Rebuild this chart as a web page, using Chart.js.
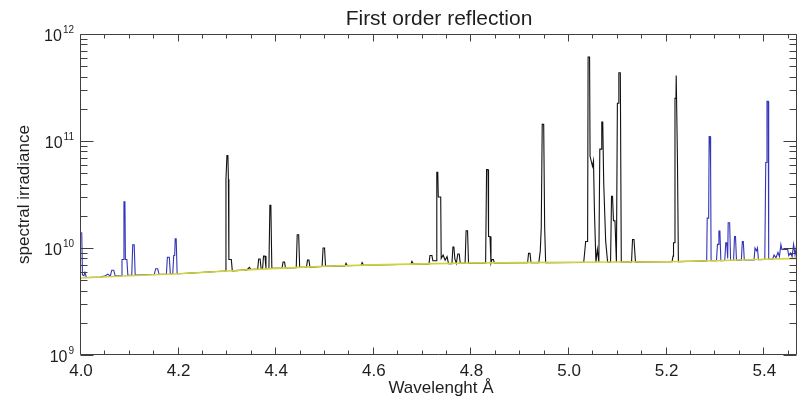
<!DOCTYPE html>
<html>
<head>
<meta charset="utf-8">
<script src="https://cdn.jsdelivr.net/npm/chart.js@4/dist/chart.umd.min.js"></script>
<style>
  html, body { margin: 0; padding: 0; background: #ffffff; }
  #wrap { width: 802px; height: 401px; }
</style>
</head>
<body>
<div id="wrap"><canvas id="c" width="802" height="401"></canvas></div>
<script>
// ---------------- data ----------------
const chartTitle = 'First order reflection';
const xAxisTitle = 'Wavelenght Å';
const yAxisTitle = 'spectral irradiance';

const xMajorTicks = [4.0, 4.2, 4.4, 4.6, 4.8, 5.0, 5.2, 5.4];
const xTickLabels = ['4.0', '4.2', '4.4', '4.6', '4.8', '5.0', '5.2', '5.4'];
const xMinorTicks = [4.05, 4.10, 4.15, 4.25, 4.30, 4.35, 4.45, 4.50, 4.55, 4.65, 4.70, 4.75,
                     4.85, 4.90, 4.95, 5.05, 5.10, 5.15, 5.25, 5.30, 5.35, 5.45];
const yMajorTicks = [1e9, 1e10, 1e11, 1e12];
const yTickExponents = ['9', '10', '11', '12'];
const yMinorTicks = [2e9, 3e9, 4e9, 5e9, 6e9, 7e9, 8e9, 9e9,
                     2e10, 3e10, 4e10, 5e10, 6e10, 7e10, 8e10, 9e10,
                     2e11, 3e11, 4e11, 5e11, 6e11, 7e11, 8e11, 9e11];

// continuum (yellow)
const contWl  = [4.00, 4.10, 4.20, 4.30, 4.40, 4.50, 4.60, 4.70, 4.80, 4.90, 5.00, 5.10, 5.20, 5.30, 5.40, 5.467];
const contVal = [5.25e9, 5.5e9, 5.75e9, 6.1e9, 6.45e9, 6.75e9, 6.95e9, 7.1e9, 7.25e9, 7.3e9, 7.35e9, 7.4e9, 7.45e9, 7.6e9, 7.85e9, 8.0e9];

// blue spectrum, short wavelength part
const blueWlA  = [4.0015, 4.003, 4.006, 4.008, 4.011, 4.040, 4.050, 4.055, 4.060, 4.063, 4.067, 4.070,
                  4.082, 4.084, 4.087, 4.088, 4.090, 4.091, 4.094, 4.096, 4.104, 4.106, 4.109, 4.111,
                  4.150, 4.153, 4.157, 4.160, 4.175, 4.177, 4.181, 4.183, 4.188, 4.190, 4.192, 4.193,
                  4.195, 4.197, 4.210];
const blueValA = [1.4e10, 5.6e9, 5.5e9, 5.9e9, 5.3e9, 5.36e9, 5.5e9, 5.7e9, 5.45e9, 6.2e9, 6.2e9, 5.5e9,
                  5.5e9, 7.8e9, 7.8e9, 2.7e10, 2.7e10, 7.8e9, 7.8e9, 5.55e9, 5.6e9, 1.07e10, 1.07e10, 5.6e9,
                  5.65e9, 6.4e9, 6.4e9, 5.68e9, 5.72e9, 8.2e9, 8.2e9, 5.74e9, 5.74e9, 8.5e9, 8.5e9, 1.22e10,
                  1.22e10, 5.75e9, 5.77e9];

// black spectrum
const blackWl  = [4.210, 4.296, 4.297, 4.299, 4.301, 4.302, 4.303, 4.308, 4.310, 4.340, 4.345, 4.348,
                  4.362, 4.364, 4.367, 4.369, 4.372, 4.374, 4.377, 4.379, 4.385, 4.387, 4.389, 4.391,
                  4.412, 4.414, 4.417, 4.419, 4.441, 4.443, 4.446, 4.448, 4.462, 4.464, 4.467, 4.469,
                  4.494, 4.496, 4.499, 4.501, 4.541, 4.543, 4.546, 4.574, 4.576, 4.579, 4.676, 4.678,
                  4.681, 4.713, 4.715, 4.719, 4.721, 4.728, 4.729, 4.731, 4.732, 4.737, 4.738, 4.742,
                  4.746, 4.750, 4.753, 4.760, 4.762, 4.764, 4.766, 4.769, 4.772, 4.775, 4.777, 4.787,
                  4.789, 4.792, 4.794, 4.829, 4.831, 4.834, 4.835, 4.838, 4.840, 4.842, 4.845, 4.847,
                  4.915, 4.917, 4.920, 4.922, 4.938, 4.941, 4.943, 4.945, 4.948, 4.950, 4.952,
                  5.030, 5.034, 5.038, 5.039, 5.042, 5.043, 5.048, 5.050, 5.052, 5.055, 5.058, 5.061,
                  5.063, 5.066, 5.067, 5.069, 5.071, 5.075, 5.079, 5.085, 5.087, 5.089, 5.091, 5.094,
                  5.097, 5.099, 5.101, 5.102, 5.105, 5.107, 5.128, 5.130, 5.133, 5.136,
                  5.205, 5.211, 5.213, 5.214, 5.216, 5.217, 5.219, 5.2195, 5.221, 5.222, 5.223, 5.224,
                  5.280];
const blackVal = [5.77e9, 6.1e9, 4.4e10, 7.3e10, 7.3e10, 4.4e10, 7.8e9, 7.8e9, 6.12e9, 6.25e9, 6.6e9, 6.3e9,
                  6.35e9, 7.9e9, 7.9e9, 6.4e9, 6.4e9, 8.4e9, 8.4e9, 6.42e9, 6.43e9, 2.5e10, 2.5e10, 6.45e9,
                  6.5e9, 7.4e9, 7.4e9, 6.5e9, 6.55e9, 1.33e10, 1.33e10, 6.6e9, 6.6e9, 7.7e9, 7.7e9, 6.62e9,
                  6.72e9, 1.0e10, 1.0e10, 6.75e9, 6.8e9, 7.2e9, 6.82e9, 6.9e9, 7.3e9, 6.9e9, 7.05e9, 7.5e9,
                  7.07e9, 7.1e9, 8.5e9, 8.5e9, 7.6e9, 7.6e9, 5.1e10, 5.1e10, 3.0e10, 3.0e10, 8.0e9, 8.6e9,
                  7.7e9, 8.3e9, 7.15e9, 7.15e9, 1.02e10, 1.02e10, 7.9e9, 7.17e9, 8.8e9, 8.8e9, 7.18e9, 7.2e9,
                  1.45e10, 1.45e10, 7.2e9, 7.23e9, 5.4e10, 5.4e10, 1.28e10, 1.28e10, 7.24e9, 7.8e9, 7.8e9, 7.25e9,
                  7.28e9, 8.9e9, 8.9e9, 7.28e9, 7.3e9, 9.4e9, 1.55e10, 1.43e11, 1.43e11, 1.55e10, 7.3e9,
                  7.33e9, 1.15e10, 1.15e10, 6.1e11, 6.1e11, 7.2e10, 5.8e10, 6.5e10, 2.2e10, 7.35e9, 9.7e9, 7.36e9,
                  8.4e10, 8.4e10, 1.5e11, 1.5e11, 4.0e10, 1.16e10, 7.37e9, 7.38e9, 3.05e10, 3.05e10, 1.8e10, 1.8e10,
                  7.38e9, 2.25e11, 2.25e11, 4.35e11, 4.35e11, 7.4e9, 7.4e9, 1.2e10, 1.2e10, 7.42e9,
                  7.45e9, 7.45e9, 8.4e9, 1.12e10, 1.12e10, 2.5e11, 2.5e11, 4.1e11, 4.1e11, 7.0e10, 7.0e10, 7.46e9,
                  7.57e9];

// blue spectrum, long wavelength part
const blueWlB  = [5.280, 5.282, 5.283, 5.286, 5.287, 5.289, 5.290, 5.291, 5.302, 5.304, 5.306, 5.307,
                  5.309, 5.311, 5.319, 5.321, 5.323, 5.325, 5.326, 5.329, 5.331, 5.337, 5.339, 5.341,
                  5.343, 5.353, 5.355, 5.357, 5.359, 5.379, 5.381, 5.384, 5.386, 5.388, 5.401, 5.403,
                  5.405, 5.4055, 5.408, 5.409, 5.417, 5.420, 5.424, 5.428, 5.431, 5.434, 5.436, 5.448,
                  5.450, 5.454, 5.457, 5.460, 5.463, 5.466];
const blueValB = [7.57e9, 7.58e9, 1.9e10, 1.9e10, 1.1e11, 1.1e11, 5.8e10, 7.6e9, 7.6e9, 1.08e10, 1.08e10, 1.44e10,
                  1.44e10, 7.62e9, 7.63e9, 1.12e10, 1.12e10, 8.0e9, 1.72e10, 1.72e10, 7.65e9, 7.65e9, 1.28e10, 1.28e10,
                  7.67e9, 7.7e9, 1.15e10, 1.15e10, 7.72e9, 7.75e9, 1.0e10, 9.4e9, 1.0e10, 7.78e9, 7.8e9, 6.3e10,
                  6.3e10, 2.35e11, 2.35e11, 7.85e9, 7.85e9, 8.6e9, 8.1e9, 9.1e9, 8.3e9, 1.08e10, 9.7e9, 9.7e9,
                  8.5e9, 9.0e9, 8.3e9, 1.08e10, 8.6e9, 1.05e10];

// ---------------- chart ----------------
const toPts = (xs, ys) => xs.map((x, i) => ({ x: x, y: ys[i] }));
const bluePts = toPts(blueWlA, blueValA).concat([{ x: 4.2105, y: null }], toPts(blueWlB, blueValB));

const FONT = "'Liberation Sans', Arial, Helvetica, sans-serif";
const TEXT = '#1e1e1e';

const idlAxes = {
  id: 'idlAxes',
  afterDatasetsDraw(chart) {
    const ctx = chart.ctx;
    const a = chart.chartArea;
    const xs = chart.scales.x, ys = chart.scales.y;
    const L = a.left - 0.5, R = a.right - 0.5, T = a.top + 0.5, B = a.bottom - 0.5;
    ctx.save();
    ctx.strokeStyle = '#404040';
    ctx.lineWidth = 1;
    ctx.beginPath();
    ctx.rect(L, T, R - L, B - T);
    ctx.stroke();
    ctx.beginPath();
    const xt = (v, len) => {
      const px = Math.round(xs.getPixelForValue(v)) - 0.5;
      ctx.moveTo(px, B); ctx.lineTo(px, B - len);
      ctx.moveTo(px, T); ctx.lineTo(px, T + len);
    };
    const yt = (v, len) => {
      const py = Math.round(ys.getPixelForValue(v)) + 0.5;
      ctx.moveTo(L, py); ctx.lineTo(L + len, py);
      ctx.moveTo(R, py); ctx.lineTo(R - len, py);
    };
    xMajorTicks.forEach(v => xt(v, 7));
    xMinorTicks.forEach(v => xt(v, 4));
    yMajorTicks.forEach(v => yt(v, 13));
    yMinorTicks.forEach(v => yt(v, 7));
    ctx.stroke();

    ctx.fillStyle = TEXT;
    // x tick labels
    ctx.font = '17px ' + FONT;
    ctx.textAlign = 'center';
    ctx.textBaseline = 'alphabetic';
    xMajorTicks.forEach((v, i) => {
      ctx.fillText(xTickLabels[i], xs.getPixelForValue(v), a.bottom + 21);
    });
    // y tick labels 10^n
    yMajorTicks.forEach((v, i) => {
      const py = ys.getPixelForValue(v);
      ctx.font = '10px ' + FONT;
      const ew = ctx.measureText(yTickExponents[i]).width;
      const right = a.left - 7;
      ctx.textAlign = 'left';
      ctx.textBaseline = 'alphabetic';
      ctx.fillText(yTickExponents[i], right - ew, py - 1);
      ctx.font = '16px ' + FONT;
      ctx.textAlign = 'right';
      ctx.fillText('10', right - ew - 1, py + 7);
    });
    // titles
    ctx.textAlign = 'center';
    ctx.font = '21px ' + FONT;
    ctx.fillText(chartTitle, (a.left + a.right) / 2, 25);
    ctx.font = '17px ' + FONT;
    ctx.fillText(xAxisTitle, (a.left + a.right) / 2 + 2, 393);
    ctx.save();
    ctx.translate(29, (a.top + a.bottom) / 2);
    ctx.rotate(-Math.PI / 2);
    ctx.fillText(yAxisTitle, 0, 0);
    ctx.restore();
    ctx.restore();
  }
};

new Chart(document.getElementById('c'), {
  type: 'scatter',
  data: {
    datasets: [
      { label: 'continuum', data: toPts(contWl, contVal), showLine: true, borderColor: '#d2d23c',
        borderWidth: 1.6, pointRadius: 0, tension: 0 },
      { label: 'spectrum', data: toPts(blackWl, blackVal), showLine: true, borderColor: '#111111',
        borderWidth: 1.1, pointRadius: 0, tension: 0 },
      { label: 'blue', data: bluePts, showLine: true, spanGaps: false, borderColor: '#3434b8',
        borderWidth: 1.1, pointRadius: 0, tension: 0 }
    ]
  },
  options: {
    responsive: false,
    animation: false,
    events: [],
    layout: { padding: { left: 81, right: 5, top: 34, bottom: 46 } },
    plugins: { legend: { display: false }, title: { display: false }, tooltip: { enabled: false } },
    scales: {
      x: { type: 'linear', min: 4.0, max: 5.467, display: false },
      y: { type: 'logarithmic', min: 1e9, max: 1e12, display: false }
    }
  },
  plugins: [idlAxes]
});
</script>
</body>
</html>
